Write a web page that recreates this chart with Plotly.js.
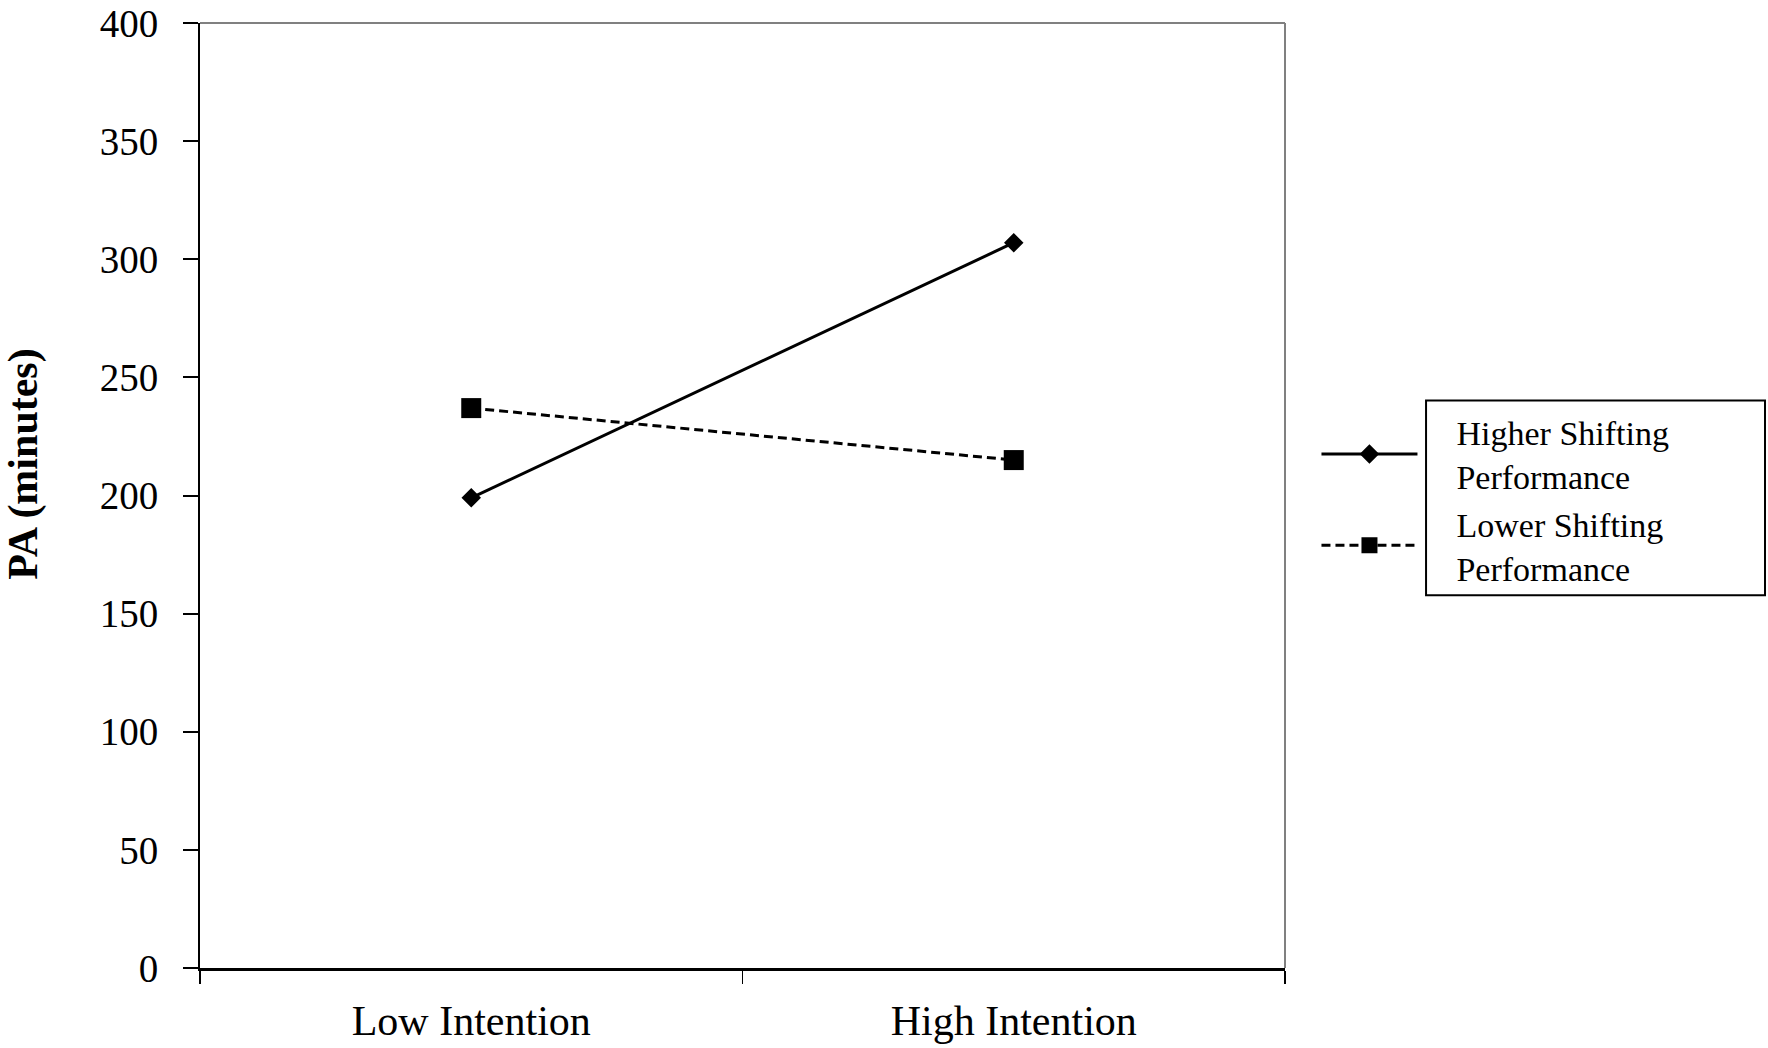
<!DOCTYPE html>
<html>
<head>
<meta charset="utf-8">
<script src="https://cdn.plot.ly/plotly-3.0.1.min.js"></script>
<style>html,body{margin:0;padding:0;background:#fff;}#chart{width:1768px;height:1048px;}</style>
</head>
<body>
<div id="chart"></div>
<script>
const categories = ['Low Intention', 'High Intention'];
const higherShifting = [199, 307];
const lowerShifting = [237, 215];
const seriesNames = ['Higher Shifting<br>Performance', 'Lower Shifting<br>Performance'];
const yTicks = [0, 50, 100, 150, 200, 250, 300, 350, 400];
const yTitle = 'PA (minutes)';

const pad = '\u00a0\u00a0\u00a0\u00a0';
function padName(n) { return n.split('<br>').map(s => pad + s).join('<br>'); }

const FONT = 'Liberation Serif, Times New Roman, serif';

const traces = [
  {
    x: categories, y: higherShifting, name: padName(seriesNames[0]),
    type: 'scatter', mode: 'lines+markers',
    line: {color: '#000', width: 3, dash: 'solid'},
    marker: {symbol: 'diamond', size: 15, color: '#000'}
  },
  {
    x: categories, y: lowerShifting, name: padName(seriesNames[1]),
    type: 'scatter', mode: 'lines+markers',
    line: {color: '#000', width: 3, dash: '9px,5px'},
    marker: {symbol: 'square', size: 20, color: '#000'}
  }
];

const layout = {
  width: 1768, height: 1048,
  margin: {l: 200, r: 483, t: 23, b: 80},
  paper_bgcolor: '#fff', plot_bgcolor: '#fff',
  font: {family: FONT, color: '#000'},
  showlegend: true,
  legend: {
    x: 1.029, y: 0.5976, xanchor: 'left', yanchor: 'top',
    font: {family: FONT, size: 34, color: '#000'},
    itemwidth: 96, valign: 'middle', tracegroupgap: 0,
    bgcolor: 'rgba(0,0,0,0)', borderwidth: 0
  },
  xaxis: {
    type: 'category', range: [-0.5, 1.5],
    tickson: 'boundaries', ticks: 'outside', ticklen: 13, tickwidth: 1.5, tickcolor: '#000',
    showline: true, linecolor: '#000', linewidth: 3,
    showgrid: false, zeroline: false,
    tickfont: {family: FONT, size: 42, color: '#000'},
    ticklabelstandoff: 14
  },
  yaxis: {
    range: [0, 400.01], tickvals: yTicks, ticktext: yTicks.map(String),
    ticks: 'outside', ticklen: 15, tickwidth: 2, tickcolor: '#000',
    showline: true, linecolor: '#000', linewidth: 2,
    showgrid: false, zeroline: false,
    ticklabeloverflow: 'allow',
    tickfont: {family: FONT, size: 39, color: '#000'},
    ticklabelstandoff: 17,
    title: {text: '<b>' + '\u00a0'.repeat(6) + yTitle + '</b>', font: {family: FONT, size: 42, color: '#000'}, standoff: 53}
  },
  shapes: [
    {type: 'line', xref: 'paper', yref: 'paper', x0: 0, x1: 1, y0: 1, y1: 1, line: {color: '#808080', width: 2}},
    {type: 'line', xref: 'paper', yref: 'paper', x0: 1, x1: 1, y0: 0, y1: 1, line: {color: '#808080', width: 2}},
    {type: 'rect', xref: 'paper', yref: 'paper', x0: 1.130, x1: 1.4424, y0: 0.3945, y1: 0.6005, line: {color: '#000', width: 2}, fillcolor: 'rgba(0,0,0,0)'}
  ]
};

Plotly.newPlot('chart', traces, layout, {displayModeBar: false, staticPlot: true});
</script>
</body>
</html>
